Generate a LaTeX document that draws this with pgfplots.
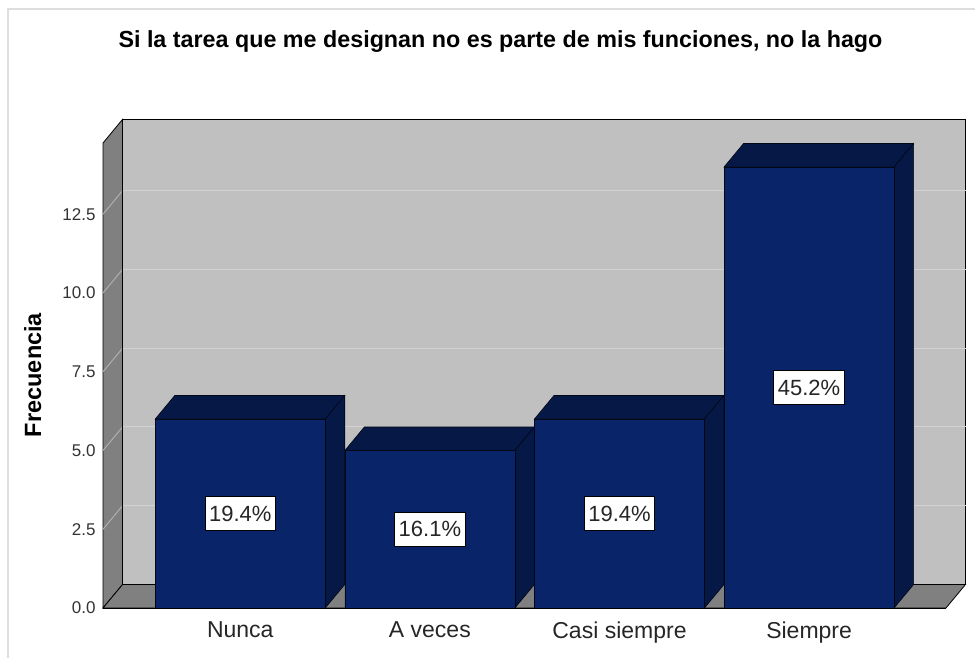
\documentclass[border=0pt]{standalone}
\usepackage{fontspec}
\setmainfont{Liberation Sans}
\usepackage{pgfplots}
\pgfplotsset{compat=1.18}
\definecolor{wallback}{RGB}{192,192,192}
\definecolor{walldark}{RGB}{128,128,128}
\definecolor{gridc}{RGB}{210,210,210}
\definecolor{gridl}{RGB}{175,175,175}
\definecolor{barfront}{RGB}{10,36,106}
\definecolor{barside}{RGB}{6,24,70}
\definecolor{framec}{RGB}{222,222,222}
\begin{document}
\begin{tikzpicture}[x=1pt,y=1pt]
\useasboundingbox (0,0) rectangle (975,658);
\draw[framec, line width=1.5pt] (8,0) -- (8,649) -- (975,649);
\node[anchor=base, font=\bfseries\fontsize{23.3}{28}\selectfont] at (500.5,610) {Si la tarea que me designan no es parte de mis funciones, no la hago};
\node[rotate=90, anchor=base, font=\bfseries\fontsize{23.5}{28}\selectfont] at (41,283) {Frecuencia};
\begin{axis}[
  at={(103pt,50pt)}, anchor=south west,
  scale only axis, width=862.5pt, height=488.6pt,
  xmin=-0.724, xmax=3.825, ymin=0, ymax=15.51,
  clip=false, axis line style={draw=none},
  major tick length=0pt,
  ytick={0,2.5,5,7.5,10,12.5},
  yticklabel style={font=\fontsize{17}{20}\selectfont, text=black!80, xshift=-4pt,
    /pgf/number format/.cd, fixed, fixed zerofill, precision=1, assume math mode=true},
  xtick={0,1,2,3},
  xticklabels={Nunca, A veces, Casi siempre, Siempre},
  xticklabel style={font=\fontsize{23}{27}\selectfont, text=black!85, yshift=-10pt},
]
% walls
\addplot[fill=wallback, draw=black, line width=0.8pt] coordinates {(-0.621,0.746) (3.825,0.746) (3.825,15.51) (-0.621,15.51)} -- cycle;
\addplot[fill=walldark, draw=black, line width=0.8pt] coordinates {(-0.724,0) (-0.724,14.76) (-0.621,15.51) (-0.621,0.746)} -- cycle;
\addplot[fill=walldark, draw=black, line width=0.8pt] coordinates {(-0.724,0) (3.722,0) (3.825,0.746) (-0.621,0.746)} -- cycle;
% grid on back wall
\addplot[gridc, line width=1pt, unbounded coords=jump] coordinates {
 (-0.621,3.246) (3.825,3.246) (nan,nan)
 (-0.621,5.746) (3.825,5.746) (nan,nan)
 (-0.621,8.246) (3.825,8.246) (nan,nan)
 (-0.621,10.746) (3.825,10.746) (nan,nan)
 (-0.621,13.246) (3.825,13.246)};
% grid on left wall
\addplot[gridl, line width=1pt, unbounded coords=jump] coordinates {
 (-0.724,2.5) (-0.621,3.246) (nan,nan)
 (-0.724,5) (-0.621,5.746) (nan,nan)
 (-0.724,7.5) (-0.621,8.246) (nan,nan)
 (-0.724,10) (-0.621,10.746) (nan,nan)
 (-0.724,12.5) (-0.621,13.246)};
\addplot[black, line width=0.8pt] coordinates {(-0.621,0.746) (-0.621,15.51)};
% bars: top and side faces
\addplot[fill=barside, draw=black!70!barside, line width=0.6pt] coordinates {(-0.4483,6) (0.4483,6) (0.5511,6.746) (-0.3455,6.746)} -- cycle;
\addplot[fill=barside, draw=black!70!barside, line width=0.6pt] coordinates {(0.4483,0) (0.4483,6) (0.5511,6.746) (0.5511,0.746)} -- cycle;
\addplot[fill=barside, draw=black!70!barside, line width=0.6pt] coordinates {(0.5517,5) (1.4483,5) (1.5511,5.746) (0.6545,5.746)} -- cycle;
\addplot[fill=barside, draw=black!70!barside, line width=0.6pt] coordinates {(1.4483,0) (1.4483,5) (1.5511,5.746) (1.5511,0.746)} -- cycle;
\addplot[fill=barside, draw=black!70!barside, line width=0.6pt] coordinates {(1.5517,6) (2.4483,6) (2.5511,6.746) (1.6545,6.746)} -- cycle;
\addplot[fill=barside, draw=black!70!barside, line width=0.6pt] coordinates {(2.4483,0) (2.4483,6) (2.5511,6.746) (2.5511,0.746)} -- cycle;
\addplot[fill=barside, draw=black!70!barside, line width=0.6pt] coordinates {(2.5517,14) (3.4483,14) (3.5511,14.746) (2.6545,14.746)} -- cycle;
\addplot[fill=barside, draw=black!70!barside, line width=0.6pt] coordinates {(3.4483,0) (3.4483,14) (3.5511,14.746) (3.5511,0.746)} -- cycle;
% bars: front faces
\addplot[ybar, bar width=170pt, fill=barfront, draw=black!70!barside, line width=0.6pt] coordinates {(0,6) (1,5) (2,6) (3,14)};
% floor front edge
\addplot[black, line width=0.8pt] coordinates {(-0.724,0) (3.722,0)};
% percentage labels
\addplot[draw=none, mark=none, nodes near coords, point meta=explicit symbolic,
  nodes near coords align={anchor=center},
  every node near coord/.append style={fill=white, draw=black, line width=0.8pt,
    inner xsep=4pt, inner ysep=9pt, text height=15.5pt, text depth=0pt,
    font=\fontsize{22}{26}\selectfont, text=black!85}]
  coordinates {(0,3) [19.4\%] (1,2.5) [16.1\%] (2,3) [19.4\%] (3,7) [45.2\%]};
\end{axis}
\end{tikzpicture}
\end{document}
